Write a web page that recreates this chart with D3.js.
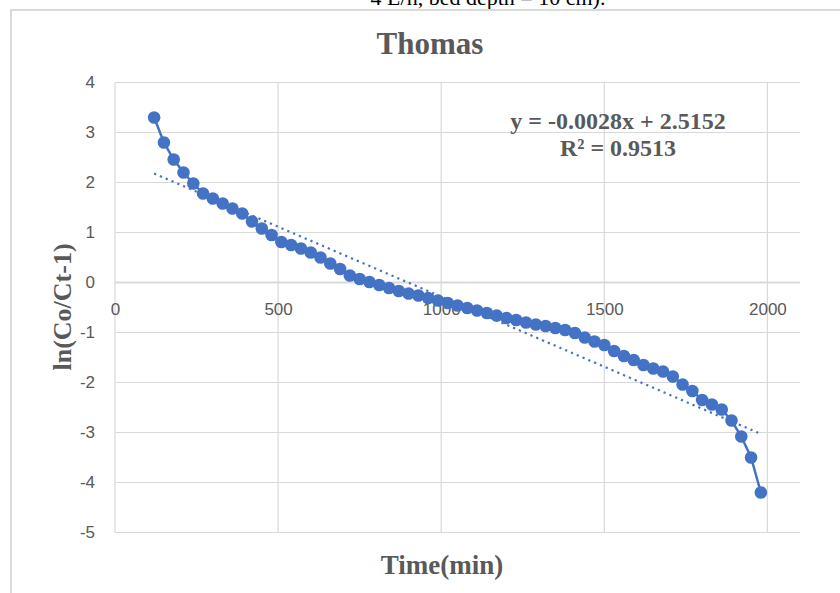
<!DOCTYPE html>
<html>
<head>
<meta charset="utf-8">
<script src="https://cdn.jsdelivr.net/npm/d3@7"></script>
<style>
  body { margin: 0; background: #fff; }
  svg { display: block; }
</style>
</head>
<body>
<svg width="840" height="593"></svg>
<script>
// time (min) and ln(Co/Ct-1)
const times = [120, 150, 180, 210, 240, 270, 300, 330, 360, 390,
               420, 450, 480, 510, 540, 570, 600, 630, 660, 690,
               720, 750, 780, 810, 840, 870, 900, 930, 960, 990,
               1020, 1050, 1080, 1110, 1140, 1170, 1200, 1230, 1260, 1290,
               1320, 1350, 1380, 1410, 1440, 1470, 1500, 1530, 1560, 1590,
               1620, 1650, 1680, 1710, 1740, 1770, 1800, 1830, 1860, 1890,
               1920, 1950, 1980];
const lnValues = [3.30, 2.80, 2.46, 2.20, 1.98, 1.78, 1.68, 1.58, 1.48, 1.38,
                  1.22, 1.08, 0.95, 0.81, 0.75, 0.68, 0.60, 0.50, 0.38, 0.27,
                  0.14, 0.07, 0.01, -0.05, -0.11, -0.17, -0.22, -0.26, -0.31, -0.36,
                  -0.41, -0.46, -0.51, -0.56, -0.61, -0.66, -0.71, -0.75, -0.80, -0.84,
                  -0.87, -0.91, -0.95, -1.01, -1.10, -1.18, -1.25, -1.37, -1.47, -1.55,
                  -1.65, -1.72, -1.78, -1.88, -2.04, -2.17, -2.35, -2.44, -2.54, -2.76,
                  -3.08, -3.50, -4.20];
const xTicks = [0, 500, 1000, 1500, 2000];
const yTicks = [4, 3, 2, 1, 0, -1, -2, -3, -4, -5];
const slope = -0.0028, intercept = 2.5152;
const eqLines = ["y = -0.0028x + 2.5152", "R² = 0.9513"];

let svg = d3.select("svg");
const blue = "#4472C4", grey = "#595959", grid = "#d9d9d9";
const serif = "'Liberation Serif', 'Times New Roman', serif";
const sans = "'Liberation Sans', Arial, sans-serif";

// bit of the document caption that got cropped above the chart
svg.append("text")
    .attr("x", 488).attr("y", 5)
    .attr("text-anchor", "middle")
    .attr("font-family", serif).attr("font-size", 22)
    .attr("fill", "#000")
    .text("4 L/h, bed depth = 10 cm).");

// chart area border
svg.append("rect")
    .attr("x", 11).attr("y", 10)
    .attr("width", 900).attr("height", 700)
    .attr("fill", "#fff")
    .attr("stroke", grid).attr("stroke-width", 2);

let x = d3.scaleLinear().domain([0, 2100]).range([115, 800]);
let y = d3.scaleLinear().domain([-5, 4]).range([532.5, 82.5]);

// gridlines
svg.append("g")
    .selectAll("line")
    .data(yTicks)
    .enter().append("line")
    .attr("x1", x(0)).attr("x2", x(2100))
    .attr("y1", d => y(d)).attr("y2", d => y(d))
    .attr("stroke", grid)
    .attr("stroke-width", d => d === 0 ? 2 : 1.2);

svg.append("g")
    .selectAll("line")
    .data(xTicks)
    .enter().append("line")
    .attr("x1", d => x(d)).attr("x2", d => x(d))
    .attr("y1", y(4)).attr("y2", y(-5))
    .attr("stroke", grid)
    .attr("stroke-width", 1.2);

// axes labels through d3 axes, lines hidden
let xAxis = svg.append("g")
    .attr("transform", "translate(0," + y(0) + ")")
    .call(d3.axisBottom(x).tickValues(xTicks).tickSize(0).tickPadding(20)
        .tickFormat(d => String(d)));
let yAxis = svg.append("g")
    .attr("transform", "translate(" + (x(0) - 20) + ",0)")
    .call(d3.axisLeft(y).tickValues(yTicks).tickSize(0).tickPadding(0)
        .tickFormat(d => d < 0 ? "-" + Math.abs(d) : String(d)));
[xAxis, yAxis].forEach(a => {
    a.select(".domain").remove();
    a.selectAll("text")
        .attr("font-family", sans)
        .attr("font-size", 17)
        .attr("fill", grey);
});

// trendline from the fitted equation
svg.append("line")
    .attr("x1", x(times[0])).attr("y1", y(slope * times[0] + intercept))
    .attr("x2", x(times[times.length - 1]))
    .attr("y2", y(slope * times[times.length - 1] + intercept))
    .attr("stroke", blue)
    .attr("stroke-width", 2.2)
    .attr("stroke-dasharray", "2.2,4.1");

// series line + markers
let pts = times.map((t, i) => [t, lnValues[i]]);
svg.append("path")
    .datum(pts)
    .attr("fill", "none")
    .attr("stroke", blue)
    .attr("stroke-width", 2.5)
    .attr("d", d3.line().x(d => x(d[0])).y(d => y(d[1])));

svg.append("g")
    .selectAll("circle")
    .data(pts)
    .enter().append("circle")
    .attr("cx", d => x(d[0]))
    .attr("cy", d => y(d[1]))
    .attr("r", 6.3)
    .attr("fill", blue);

// titles
svg.append("text")
    .attr("x", 430).attr("y", 54)
    .attr("text-anchor", "middle")
    .attr("font-family", serif).attr("font-weight", "bold")
    .attr("font-size", 31).attr("fill", grey)
    .text("Thomas");

svg.append("text")
    .attr("x", 442).attr("y", 574)
    .attr("text-anchor", "middle")
    .attr("font-family", serif).attr("font-weight", "bold")
    .attr("font-size", 27).attr("fill", grey)
    .text("Time(min)");

svg.append("text")
    .attr("transform", "translate(71,307) rotate(-90)")
    .attr("text-anchor", "middle")
    .attr("font-family", serif).attr("font-weight", "bold")
    .attr("font-size", 26).attr("fill", grey)
    .text("ln(Co/Ct-1)");

svg.append("g")
    .selectAll("text")
    .data(eqLines)
    .enter().append("text")
    .attr("x", 618)
    .attr("y", (d, i) => 129 + i * 27)
    .attr("text-anchor", "middle")
    .attr("font-family", serif).attr("font-weight", "bold")
    .attr("font-size", 24).attr("fill", grey)
    .text(d => d);
</script>
</body>
</html>
